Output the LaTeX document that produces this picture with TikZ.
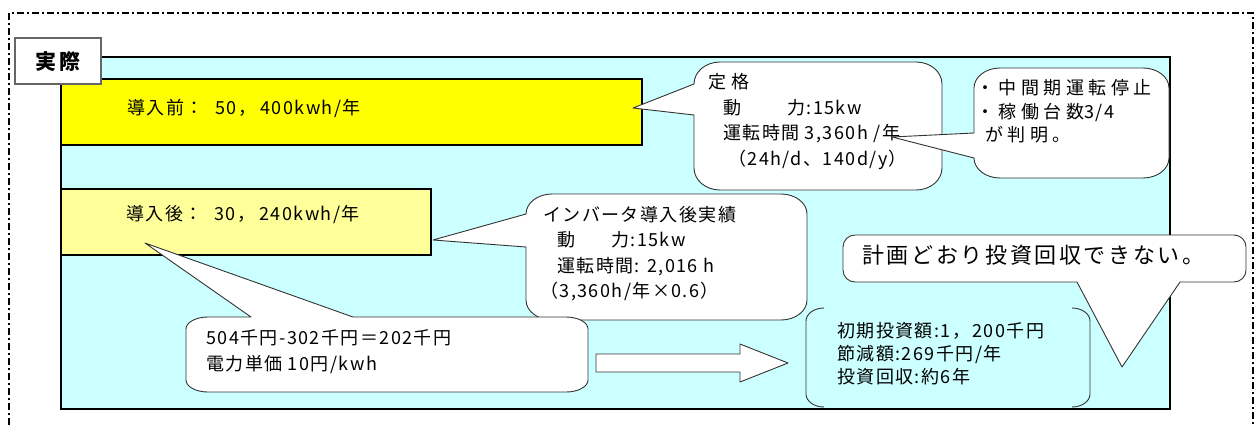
\documentclass[tikz,border=0pt]{standalone}
\usepackage{fontspec}
\setmainfont{Noto Sans CJK JP}
\newfontfamily\jpA{Noto Sans CJK JP}[LetterSpace=8]
\newfontfamily\jpB{Noto Sans CJK JP}[LetterSpace=25]
\newfontfamily\jpC{Noto Sans CJK JP}[LetterSpace=12]
\newfontfamily\jpD{Noto Sans CJK JP}[LetterSpace=12]
\definecolor{bgcyan}{HTML}{CCFFFF}
\definecolor{yelA}{HTML}{FFFF00}
\definecolor{yelB}{HTML}{FFFF99}
\definecolor{edge}{HTML}{333333}
\tikzset{
  lbl/.style={anchor=west, inner sep=0pt, text height=15.8pt, text depth=2.2pt, font=\jpA\fontsize{18}{21}\selectfont},
  lblB/.style={anchor=west, inner sep=0pt, text height=15.8pt, text depth=2.2pt, font=\jpB\fontsize{18}{21}\selectfont},
  lblC/.style={anchor=west, inner sep=0pt, text height=19.4pt, text depth=2.6pt, font=\jpC\fontsize{22}{25}\selectfont},
  lblD/.style={anchor=center, inner sep=0pt, text height=18.5pt, text depth=2.5pt, font=\jpD\bfseries\fontsize{21}{24}\selectfont},
  co/.style={draw=edge, line width=0.9pt, fill=white, line join=round},
  br/.style={draw=edge, line width=0.9pt},
  ybox/.style={draw=black, line width=1.8pt},
}
\begin{document}
\begin{tikzpicture}[x=1pt,y=1pt]
\useasboundingbox (0,0) rectangle (1258,-426);
% outer dash-dot frame
\draw[line width=1.5pt, dash pattern=on 7pt off 3pt on 2pt off 3pt] (9,-440) -- (9,-13) -- (1253,-13) -- (1253,-440);
% main cyan panel
\draw[fill=bgcyan, draw=black, line width=2pt] (61,-57) rectangle (1170,-409);
% yellow boxes
\draw[ybox, fill=yelA] (61,-79) rectangle (642,-145);
\node[lbl] (pre) at (127,-108) {導入前：\hspace{12pt}50，\hspace{4pt}400kwh/年};
\draw[ybox, fill=yelB] (61,-189) rectangle (431,-255);
\node[lbl] (post) at (126,-214) {導入後：\hspace{12pt}30，\hspace{4pt}240kwh/年};
% callout 1
\draw[co] (720,-62) -- (916,-62) arc[start angle=90,end angle=0,x radius=26pt,y radius=22pt]
  -- (942,-168) arc[start angle=0,end angle=-90,x radius=26pt,y radius=22pt]
  -- (720,-190) arc[start angle=270,end angle=180,x radius=26pt,y radius=22pt]
  -- (694,-115) -- (633,-108) -- (694,-84)
  arc[start angle=180,end angle=90,x radius=26pt,y radius=22pt] -- cycle;
\node[lbl] (c1a) at (708,-82) {定 格};
\node[lbl] (c1b) at (723,-108) {動\hspace{46pt}力:15kw};
\node[lbl] (c1c) at (723,-133) {運転時間 3,360h /年};
\node[lbl] (c1d) at (728,-159) {（24h/d、140d/y）};
% callout 2
\draw[co] (1000,-68) -- (1143,-68) arc[start angle=90,end angle=0,x radius=26pt,y radius=20pt]
  -- (1169,-158) arc[start angle=0,end angle=-90,x radius=26pt,y radius=20pt]
  -- (1000,-178) arc[start angle=270,end angle=180,x radius=26pt,y radius=20pt]
  -- (892,-137) -- (974,-133) -- (974,-88)
  arc[start angle=180,end angle=90,x radius=26pt,y radius=20pt] -- cycle;
\node[lblB] (c2a) at (976,-88) {・中間期運転停止};
\node[lblB] (c2b) at (976,-112) {・稼働台数{\jpA 3/4}};
\node[lblB] (c2c) at (985,-135) {が判明。};
% callout 3
\draw[co] (552,-194) -- (781,-194) arc[start angle=90,end angle=0,x radius=26pt,y radius=20pt]
  -- (807,-300) arc[start angle=0,end angle=-90,x radius=26pt,y radius=20pt]
  -- (552,-320) arc[start angle=270,end angle=180,x radius=26pt,y radius=20pt]
  -- (526,-247) -- (433,-240) -- (526,-214)
  arc[start angle=180,end angle=90,x radius=26pt,y radius=20pt] -- cycle;
\node[lbl] (c3a) at (543,-215) {インバータ導入後実績};
\node[lbl] (c3b) at (557,-240) {動\hspace{36pt}力:15kw};
\node[lbl] (c3c) at (557,-266) {運転時間: 2,016 h};
\node[lbl] (c3d) at (540,-291) {（3,360h/年×0.6）};
% callout 4
\draw[co] (208,-317) -- (251,-317) -- (145,-243) -- (353,-317) -- (566,-317)
  arc[start angle=90,end angle=0,x radius=22pt,y radius=12pt]
  -- (588,-380) arc[start angle=0,end angle=-90,x radius=22pt,y radius=12pt]
  -- (208,-392) arc[start angle=270,end angle=180,x radius=22pt,y radius=12pt]
  -- (186,-329) arc[start angle=180,end angle=90,x radius=22pt,y radius=12pt] -- cycle;
\node[lbl] (c4a) at (206,-338) {504千円-302千円＝202千円};
\node[lbl] (c4b) at (206,-364) {電力単価 10円/kwh};
% block arrow
\draw[co] (596,-354) -- (740,-354) -- (740,-344) -- (788,-363) -- (740,-382) -- (740,-372) -- (596,-372) -- cycle;
% bracket pair (result)
\draw[br] (824,-308) arc[start angle=90,end angle=180,x radius=18pt,y radius=13pt]
  -- (806,-394) arc[start angle=180,end angle=270,x radius=18pt,y radius=13pt];
\draw[br] (1072,-308) arc[start angle=90,end angle=0,x radius=18pt,y radius=13pt]
  -- (1090,-394) arc[start angle=0,end angle=-90,x radius=18pt,y radius=13pt];
\node[lbl] (c5a) at (837,-331) {初期投資額:1，\hspace{2pt}200千円};
\node[lbl] (c5b) at (837,-354) {節減額:269千円/年};
\node[lbl] (c5c) at (837,-377) {投資回収:約6年};
% callout 6
\draw[co] (855,-235) -- (1234,-235) arc[start angle=90,end angle=0,x radius=12pt,y radius=12pt]
  -- (1246,-270) arc[start angle=0,end angle=-90,x radius=12pt,y radius=12pt]
  -- (1180,-282) -- (1122,-367) -- (1077,-282) -- (855,-282)
  arc[start angle=270,end angle=180,x radius=12pt,y radius=12pt]
  -- (843,-247) arc[start angle=180,end angle=90,x radius=12pt,y radius=12pt] -- cycle;
\node[lblC] (c6) at (862,-255) {計画どおり投資回収できない。};
% label box
\draw[draw=black!60, line width=1.2pt, fill=white] (15,-38) rectangle (101,-84);
\node[lblD] (jissai) at (58,-61) {実際};
\end{tikzpicture}
\end{document}
